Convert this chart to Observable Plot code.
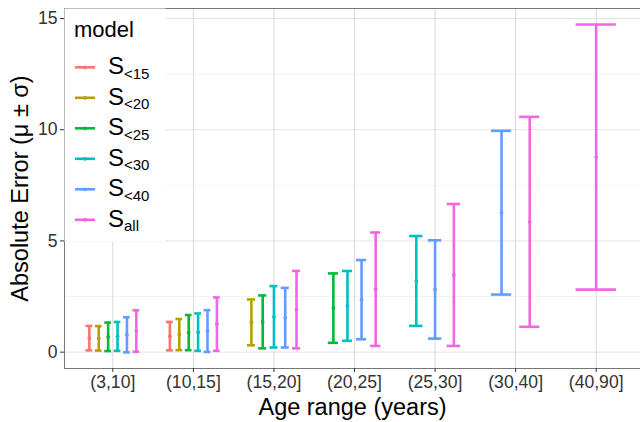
<!DOCTYPE html>
<html><head><meta charset="utf-8">
<script src="https://cdn.jsdelivr.net/npm/d3@7"></script>
<script src="https://cdn.jsdelivr.net/npm/@observablehq/plot@0.6"></script>
<style>
body{margin:0;background:#fff;font-family:"Liberation Sans",Arial,sans-serif;}
#wrap{position:relative;width:640px;height:422px;overflow:hidden;}
#legend{position:absolute;left:0;top:0;pointer-events:none;}
</style></head><body><div id="wrap"></div>
<script>
// Categories
const ageRanges = ["(3,10]","(10,15]","(15,20]","(20,25]","(25,30]","(30,40]","(40,90]"];
const models = ["S<15","S<20","S<25","S<30","S<40","Sall"];
const modelSubs = ["<15","<20","<25","<30","<40","all"];
const colors = ["#F8766D","#B79F00","#00BA38","#00BFC4","#619CFF","#F564E3"];
const yTicks = [0,5,10,15];
const yMinorTicks = [2.5,7.5,12.5];

// mean absolute error and sd, per model, for age ranges starting at (3,10]
const meanS15 = [0.63, 0.72];
const sdS15   = [0.55, 0.64];
const meanS20 = [0.62, 0.79, 1.34];
const sdS20   = [0.55, 0.70, 1.03];
const meanS25 = [0.69, 0.88, 1.36, 1.98];
const sdS25   = [0.64, 0.79, 1.19, 1.56];
const meanS30 = [0.71, 0.90, 1.59, 2.08, 3.20];
const sdS30   = [0.65, 0.84, 1.38, 1.57, 2.02];
const meanS40 = [0.78, 0.95, 1.55, 2.36, 2.82, 6.27];
const sdS40   = [0.79, 0.94, 1.34, 1.78, 2.21, 3.68];
const meanAll = [0.95, 1.26, 1.91, 2.83, 3.47, 5.86, 8.77];
const sdAll   = [0.93, 1.20, 1.74, 2.55, 3.19, 4.72, 5.96];

const means = [meanS15, meanS20, meanS25, meanS30, meanS40, meanAll];
const sds   = [sdS15, sdS20, sdS25, sdS30, sdS40, sdAll];

// build table with dodge positions (dodge width 0.7, errorbar width 0.5)
const rows = [];
means.forEach((arr, m) => arr.forEach((v, a) => rows.push({age: a, model: m, mean: v, sd: sds[m][a]})));
const groups = d3.group(rows, d => d.age);
for (const [a, g] of groups) {
  g.sort((p, q) => p.model - q.model);
  const n = g.length;
  g.forEach((d, k) => {
    d.x = a + 1 + (k - (n - 1) / 2) * 0.7 / n;
    d.half = 0.25 / n;
    d.x1 = d.x - d.half; d.x2 = d.x + d.half;
    d.lo = d.mean - d.sd; d.hi = d.mean + d.sd;
    d.color = colors[d.model];
  });
}

const font = '"Liberation Sans", Arial, sans-serif';
const plot = Plot.plot({
  width: 640, height: 422,
  marginLeft: 64, marginRight: 0, marginTop: 8, marginBottom: 54,
  style: {fontFamily: font, background: "#fff", overflow: "visible"},
  x: {type: "linear", domain: [0.4, 7.55]},
  y: {domain: [-0.735, 15.45]},
  marks: [
    Plot.gridY(yMinorTicks, {stroke: "#ebebeb", strokeOpacity: 1, strokeWidth: 0.6}),
    Plot.gridY(yTicks, {stroke: "#e3e3e3", strokeOpacity: 1, strokeWidth: 1}),
    Plot.gridX(d3.range(1, 8), {stroke: "#d9d9d9", strokeOpacity: 1, strokeWidth: 1}),
    Plot.ruleX(rows, {x: "x", y1: "lo", y2: "hi", stroke: "color", strokeWidth: 2.6}),
    Plot.ruleY(rows, {y: "lo", x1: "x1", x2: "x2", stroke: "color", strokeWidth: 2.6}),
    Plot.ruleY(rows, {y: "hi", x1: "x1", x2: "x2", stroke: "color", strokeWidth: 2.6}),
    Plot.dot(rows, {x: "x", y: "mean", r: 1.9, fill: "color", stroke: null}),
    Plot.frame({stroke: "#777", strokeWidth: 1}),
    Plot.axisY(yTicks, {tickSize: 4, tickPadding: 3, fontSize: 17.6, color: "#333", label: null}),
    Plot.axisX(d3.range(1, 8), {tickSize: 4, tickPadding: 3, fontSize: 17.6, color: "#333", label: null,
      tickFormat: i => ageRanges[i - 1]}),
    Plot.text(["Age range (years)"], {frameAnchor: "bottom", dy: 39, lineAnchor: "middle", textAnchor: "middle", fontSize: 23.5, fill: "#000"}),
    Plot.text(["Absolute Error (μ ± σ)"], {frameAnchor: "left", dx: -44, rotate: -90, lineAnchor: "middle", textAnchor: "middle", fontSize: 23.5, fill: "#000"})
  ]
});
document.getElementById("wrap").appendChild(plot);

// legend overlay
const svg = d3.select("#wrap").append("svg").attr("id", "legend")
  .attr("width", 640).attr("height", 422).style("font-family", font);
svg.append("rect").attr("x", 64.5).attr("y", 8.5).attr("width", 101).attr("height", 233).attr("fill", "#fff");
svg.append("text").attr("x", 74).attr("y", 37).attr("font-size", 22).attr("fill", "#000").text("model");
modelSubs.forEach((s, k) => {
  const y = 67.3 + 30.5 * k;
  const g = svg.append("g");
  g.append("line").attr("x1", 75).attr("x2", 95).attr("y1", y).attr("y2", y)
    .attr("stroke", colors[k]).attr("stroke-width", 2.6);
  g.append("circle").attr("cx", 85).attr("cy", y).attr("r", 1.9).attr("fill", colors[k]);
  const t = g.append("text").attr("x", 108).attr("y", y + 7).attr("fill", "#000");
  t.append("tspan").attr("font-size", 24).text("S");
  t.append("tspan").attr("font-size", 15).attr("dy", 4.5).text(s);
});
</script></body></html>
